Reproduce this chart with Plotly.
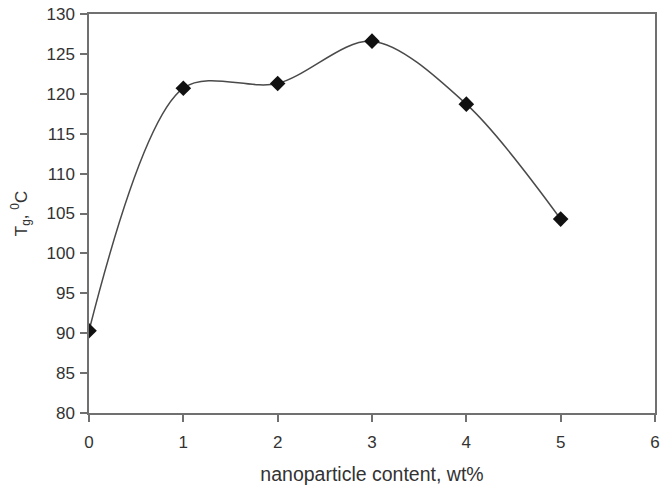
import plotly.graph_objects as go

x_vals = [0, 1, 2, 3, 4, 5]
tg_vals = [90.3, 120.7, 121.3, 126.6, 118.7, 104.3]

x_ticks = [0, 1, 2, 3, 4, 5, 6]
y_ticks = [80, 85, 90, 95, 100, 105, 110, 115, 120, 125, 130]

fig = go.Figure()
fig.add_trace(go.Scatter(
    x=x_vals, y=tg_vals, mode="lines+markers",
    line=dict(color="#4a4a4a", width=1.5, shape="spline", smoothing=0.9),
    marker=dict(symbol="diamond", size=12, color="#111111"),
    showlegend=False,
))

tick_font = dict(family="Liberation Sans, Arial, sans-serif", size=17, color="#333333")
title_font_x = dict(family="Liberation Sans, Arial, sans-serif", size=19.5, color="#333333")
title_font_y = dict(family="Liberation Sans, Arial, sans-serif", size=17, color="#333333")
axis_common = dict(
    showgrid=False, zeroline=False, showline=True, linecolor="#707070", linewidth=1.5,
    mirror=True, ticks="outside", ticklen=7, tickcolor="#707070", tickwidth=1.5,
    tickfont=tick_font, automargin=False,
)
fig.update_layout(
    width=663, height=490,
    margin=dict(l=89, r=8, t=14, b=77),
    paper_bgcolor="white", plot_bgcolor="white",
    font=tick_font,
    xaxis=dict(range=[0, 6], tickvals=x_ticks, ticklabelstandoff=6,
               title=dict(text="nanoparticle content, wt%", font=title_font_x, standoff=16), **axis_common),
    yaxis=dict(range=[80, 130], tickvals=y_ticks, ticklabelstandoff=2,
               title=dict(text="T<sub>g</sub>, <sup>0</sup>C", font=title_font_y, standoff=15), **axis_common),
)
fig.write_html("out.html")
